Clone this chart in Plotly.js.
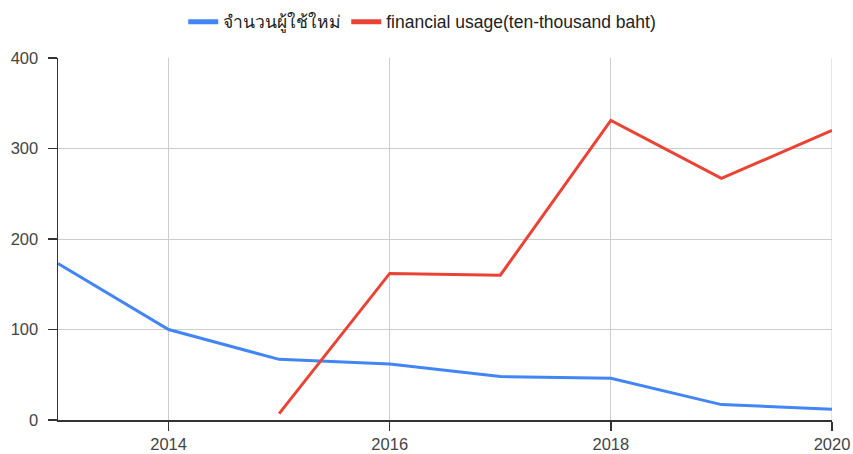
<!DOCTYPE html>
<html><head><meta charset="utf-8">
<script src="https://cdn.plot.ly/plotly-3.0.1.min.js"></script>
<style>html,body{margin:0;padding:0;background:#fff}#c{width:853px;height:454px}</style>
</head><body><div id="c"></div>
<script>
const years = [2013, 2014, 2015, 2016, 2017, 2018, 2019, 2020];
const newUsers = [173, 100, 67, 62, 48, 46, 17, 12];
const finYears = [2015, 2016, 2017, 2018, 2019, 2020];
const financial = [7, 162, 160, 331, 267, 320];
const names = ['จำนวนผู้ใช้ใหม่', 'financial usage(ten-thousand baht)'];
const xTicks = [2014, 2016, 2018, 2020];
const yTicks = [0, 100, 200, 300, 400];

const traces = [
  {x: years, y: newUsers, name: names[0], type: 'scatter', mode: 'lines',
   line: {color: '#4285f4', width: 3}},
  {x: finYears, y: financial, name: names[1], type: 'scatter', mode: 'lines',
   line: {color: '#ea4335', width: 3}}
];
const layout = {
  width: 853, height: 454,
  margin: {l: 58, r: 21, t: 58, b: 34},
  paper_bgcolor: '#fff', plot_bgcolor: '#fff',
  font: {family: 'Arial, "Liberation Sans", sans-serif', size: 16.5, color: '#444'},
  showlegend: true,
  legend: {orientation: 'h', x: 0.495, xanchor: 'center', xref: 'container',
           y: 0.952, yanchor: 'middle', yref: 'container',
           itemwidth: 30, itemsizing: 'constant',
           font: {size: 17.5, color: '#222'}},
  xaxis: {range: [2013, 2020], tickvals: xTicks, ticktext: xTicks.map(String),
          showgrid: true, gridcolor: '#cccccc', gridwidth: 1,
          showline: true, linecolor: '#333', linewidth: 1.5,
          ticks: 'outside', ticklen: 9, tickcolor: '#333', tickwidth: 1.5,
          ticklabelstandoff: 0,
          zeroline: false, fixedrange: true, mirror: false},
  yaxis: {range: [0, 400], tickvals: yTicks, ticktext: yTicks.map(String),
          showgrid: true, gridcolor: '#cccccc', gridwidth: 1,
          showline: true, linecolor: '#333', linewidth: 1.5,
          ticks: 'outside', ticklen: 9, tickcolor: '#333', tickwidth: 1.5,
          ticklabelstandoff: 6,
          zeroline: false, fixedrange: true},
  shapes: [{type: 'line', xref: 'x', yref: 'paper', x0: 2020, x1: 2020, y0: 0, y1: 1,
            line: {color: '#cccccc', width: 1}, layer: 'below'}]
};
Plotly.newPlot('c', traces, layout, {displayModeBar: false, staticPlot: true});
</script></body></html>
